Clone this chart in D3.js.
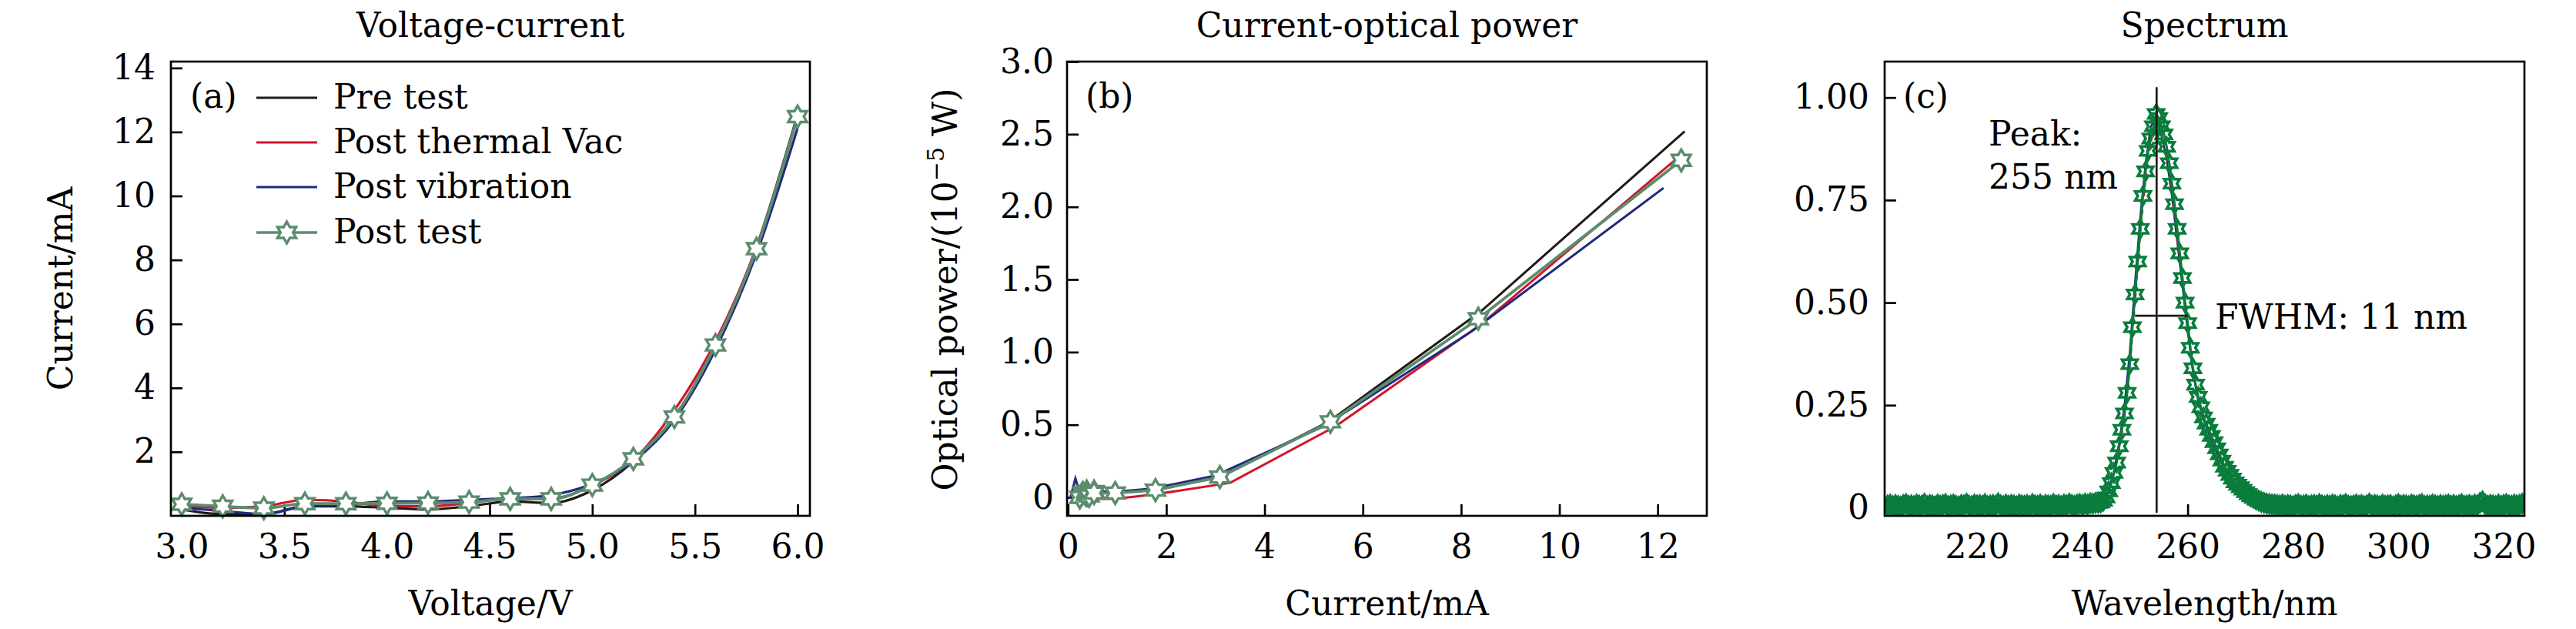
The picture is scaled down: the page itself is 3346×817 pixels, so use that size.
<!DOCTYPE html>
<html><head><meta charset="utf-8">
<script src="https://cdn.jsdelivr.net/npm/d3@7"></script>
<style>body{margin:0;background:#fff}text{font-family:"DejaVu Serif",serif;fill:#000}</style>
</head><body>
<svg id="chart" width="3346" height="817"></svg>
<script>
// ---------- data ----------
const seriesNames = ["Pre test", "Post thermal Vac", "Post vibration", "Post test"];
const seriesColors = ["#231815", "#d2142b", "#1f2a80", "#5b8c6d"];
const voltage = [3.0,3.2,3.4,3.6,3.8,4.0,4.2,4.4,4.6,4.8,5.0,5.2,5.4,5.6,5.8,6.0];
const curPre     = [0.20,0.05,0.05,0.30,0.30,0.25,0.20,0.30,0.45,0.40,0.80,1.70,3.10,5.30,8.40,12.55];
const curThermal = [0.30,0.25,0.30,0.50,0.45,0.30,0.30,0.40,0.55,0.55,0.95,1.75,3.30,5.45,8.40,12.45];
const curVib     = [0.25,0.15,0.05,0.30,0.35,0.45,0.45,0.50,0.55,0.65,1.00,1.70,3.00,5.20,8.20,12.12];
const curPost    = [0.36,0.30,0.24,0.38,0.38,0.39,0.40,0.43,0.53,0.53,0.96,1.78,3.09,5.34,8.35,12.48];
const powPre     = [0.01,0.00,0.00,0.01,0.01,0.01,0.01,0.01,0.02,0.02,0.03,0.05,0.14,0.52,1.28,2.52];
const powThermal = [-0.02,-0.02,-0.02,-0.01,-0.02,-0.02,-0.02,-0.02,-0.01,-0.01,-0.01,0.02,0.10,0.49,1.19,2.35];
const powVib     = [0.02,0.13,0.00,0.02,0.02,0.03,0.03,0.03,0.03,0.04,0.04,0.06,0.15,0.49,1.14,2.13];
const powPost    = [0.02,0.03,0.00,0.04,0.02,0.03,0.02,0.01,0.04,0.03,0.03,0.05,0.14,0.52,1.23,2.32];

const specWl = [
203,203.5,204,204.5,205,205.5,206,206.5,207,207.5,208,208.5,209,209.5,210,210.5,211,211.5,212,212.5,
213,213.5,214,214.5,215,215.5,216,216.5,217,217.5,218,218.5,219,219.5,220,220.5,221,221.5,222,222.5,
223,223.5,224,224.5,225,225.5,226,226.5,227,227.5,228,228.5,229,229.5,230,230.5,231,231.5,232,232.5,
233,233.5,234,234.5,235,235.5,236,236.5,237,237.5,238,238.5,239,239.5,240,240.5,241,241.5,242,242.5,243,
243.5,244,244.5,245,245.5,246,246.5,247,247.5,248,248.5,249,249.5,250,250.5,251,251.5,252,252.5,253,253.5,254,254.5,255,255.5,256,256.5,257,257.5,258,258.5,259,259.5,260,260.5,261,261.5,262,262.5,263,263.5,264,264.5,265,265.5,266,266.5,267,267.5,268,268.5,269,269.5,270,270.5,271,271.5,272,272.5,273,273.5,274,274.5,275,275.5,276,
276.5,277,277.5,278,278.5,279,279.5,280,280.5,281,281.5,282,282.5,283,283.5,284,284.5,285,285.5,286,
286.5,287,287.5,288,288.5,289,289.5,290,290.5,291,291.5,292,292.5,293,293.5,294,294.5,295,295.5,296,
296.5,297,297.5,298,298.5,299,299.5,300,300.5,301,301.5,302,302.5,303,303.5,304,304.5,305,305.5,306,
306.5,307,307.5,308,308.5,309,309.5,310,310.5,311,311.5,312,312.5,313,313.5,314,314.5,315,315.5,316,
316.5,317,317.5,318,318.5,319,319.5,320,320.5,321,321.5,322,322.5,323,323.5];
const specPost = [
0.006,0.008,0.004,0.007,0.005,0.003,0.007,0.009,0.005,0.006,
0.004,0.008,0.006,0.005,0.010,0.004,0.007,0.006,0.003,0.008,
0.005,0.007,0.009,0.004,0.006,0.008,0.005,0.003,0.007,0.006,
0.010,0.005,0.004,0.008,0.006,0.007,0.005,0.009,0.004,0.006,
0.007,0.005,0.011,0.006,0.004,0.008,0.005,0.007,0.006,0.003,
0.008,0.006,0.005,0.007,0.004,0.009,0.006,0.005,0.008,0.004,
0.007,0.006,0.005,0.009,0.006,0.007,0.004,0.008,0.006,0.010,
0.007,0.005,0.008,0.009,0.007,0.010,0.008,0.011,0.010,0.012,0.012,
0.013,0.017,0.025,0.040,0.060,0.085,0.110,0.150,0.190,0.230,0.280,0.350,0.440,0.520,0.600,0.680,0.760,0.820,0.870,0.900,0.930,0.960,0.950,0.930,0.910,0.880,0.840,0.790,0.740,0.680,0.620,0.560,0.500,0.450,0.390,0.340,0.300,0.270,0.245,0.220,0.205,0.190,0.175,0.160,0.145,0.130,0.115,0.100,0.090,0.080,0.071,0.062,0.056,0.050,0.044,0.038,0.033,0.028,0.024,0.020,0.017,0.014,0.012,0.010,0.009,0.008,
0.008,0.007,0.006,0.008,0.005,0.007,0.006,0.004,0.007,0.009,
0.005,0.006,0.008,0.004,0.006,0.007,0.005,0.009,0.006,0.004,
0.007,0.005,0.008,0.006,0.003,0.007,0.006,0.009,0.005,0.004,
0.006,0.008,0.005,0.007,0.004,0.006,0.010,0.005,0.007,0.006,
0.004,0.008,0.005,0.006,0.007,0.003,0.006,0.009,0.005,0.007,
0.006,0.004,0.008,0.006,0.005,0.007,0.009,0.004,0.006,0.005,
0.008,0.006,0.004,0.007,0.005,0.006,0.008,0.005,0.007,0.004,
0.006,0.009,0.005,0.006,0.007,0.004,0.008,0.006,0.012,0.016,
0.008,0.005,0.007,0.006,0.004,0.008,0.005,0.007,0.009,0.006,
0.005,0.008,0.006,0.007,0.010];
const peakWl = [243,244,245,246,247,248,249,250,251,252,253,254,255,256,257,258,259,260,261,262,263,264,265,266,267,268,269,270,271,272,273,274,275,276];
const specThermal = [0.010,0.020,0.040,0.080,0.140,0.220,0.340,0.500,0.670,0.800,0.890,0.950,0.920,0.860,0.770,0.660,0.550,0.440,0.340,0.270,0.220,0.185,0.155,0.125,0.098,0.078,0.060,0.048,0.037,0.027,0.020,0.014,0.010,0.008];
const specVib = [0.012,0.022,0.045,0.090,0.160,0.250,0.380,0.550,0.710,0.840,0.930,0.950,0.910,0.850,0.760,0.650,0.540,0.430,0.330,0.260,0.215,0.180,0.150,0.120,0.095,0.075,0.058,0.046,0.035,0.026,0.019,0.013,0.010,0.008];
const peakNm = 254.1, fwhmLeft = 250.0, fwhmRight = 260.0, fwhmLevel = 0.468;

const ticksA_x = [3.0,3.5,4.0,4.5,5.0,5.5,6.0], ticksA_y = [2,4,6,8,10,12,14];
const ticksB_x = [0,2,4,6,8,10,12], ticksB_y = [0,0.5,1.0,1.5,2.0,2.5,3.0];
const ticksC_x = [220,240,260,280,300,320], ticksC_y = [0,0.25,0.5,0.75,1.0];

// ---------- helpers ----------
const svg = d3.select("#chart");
svg.append("rect").attr("width",3346).attr("height",817).attr("fill","#fff");
const FS = 44, TOP = 80, BOT = 670;

function hexagram(r){
  const ri = r/Math.sqrt(3), pts=[];
  for(let k=0;k<12;k++){const a=-Math.PI/2+k*Math.PI/6, rr=(k%2===0)?r:ri; pts.push([rr*Math.cos(a),rr*Math.sin(a)]);}
  return "M"+pts.map(p=>p[0].toFixed(2)+","+p[1].toFixed(2)).join("L")+"Z";
}

function panel(o){
  const g = svg.append("g");
  const x = d3.scaleLinear().domain(o.xd).range([o.left,o.right]);
  const y = d3.scaleLinear().domain(o.yd).range([BOT,TOP]);
  const xa = g.append("g").attr("transform",`translate(0,${BOT})`)
    .call(d3.axisBottom(x).tickValues(o.xt).tickFormat(o.xf).tickSizeInner(-15).tickSizeOuter(0).tickPadding(24));
  const ya = g.append("g").attr("transform",`translate(${o.left},0)`)
    .call(d3.axisLeft(y).tickValues(o.yt).tickFormat(o.yf).tickSizeInner(-15).tickSizeOuter(0).tickPadding(o.ypad||20));
  [xa,ya].forEach(a=>{a.select(".domain").remove();
    a.selectAll("line").attr("stroke","#000").attr("stroke-width",2.7);
    a.selectAll("text").style("font-family","DejaVu Serif").attr("font-size",FS).attr("fill","#000");});
  g.append("text").attr("x",(o.left+o.right)/2).attr("y",48).attr("text-anchor","middle").attr("font-size",FS).text(o.title);
  g.append("text").attr("x",(o.left+o.right)/2).attr("y",799).attr("text-anchor","middle").attr("font-size",FS).text(o.xlabel);
  return {g,x,y};
}
function frame(g,o){
  g.append("rect").attr("x",o.left).attr("y",TOP).attr("width",o.right-o.left).attr("height",BOT-TOP)
   .attr("fill","none").attr("stroke","#000").attr("stroke-width",2.7);
}

// ---------- panel (a) ----------
const oA = {left:222,right:1052,xd:[2.9475,6.06],yd:[0,14.2],xt:ticksA_x,yt:ticksA_y,
  xf:d3.format(".1f"),yf:d3.format("d"),title:"Voltage-current",xlabel:"Voltage/V"};
const A = panel(oA);
const curA = [curPre,curThermal,curVib,curPost];
const lineA = d3.line().curve(d3.curveMonotoneX);
curA.forEach((c,i)=>{
  A.g.append("path").attr("d",lineA(voltage.map((v,j)=>[A.x(v),A.y(c[j])])))
   .attr("fill","none").attr("stroke",seriesColors[i]).attr("stroke-width",i===3?3.8:3.2);
});
A.g.selectAll(".mA").data(voltage).join("path").attr("class","mA")
  .attr("transform",(v,j)=>`translate(${A.x(v)},${A.y(curPost[j])})`).attr("d",hexagram(14))
  .attr("fill","#fff").attr("stroke",seriesColors[3]).attr("stroke-width",3.4);
frame(A.g,oA);
A.g.append("text").attr("x",247).attr("y",140).attr("font-size",FS).text("(a)");
const legY = [127,185,243,302];
seriesNames.forEach((n,i)=>{
  A.g.append("line").attr("x1",333).attr("x2",412).attr("y1",legY[i]).attr("y2",legY[i])
   .attr("stroke",seriesColors[i]).attr("stroke-width",i===3?3.6:3);
  if(i===3) A.g.append("path").attr("transform",`translate(372.5,${legY[i]})`).attr("d",hexagram(14))
   .attr("fill","#fff").attr("stroke",seriesColors[3]).attr("stroke-width",3.4);
  A.g.append("text").attr("x",433).attr("y",legY[i]+14).attr("font-size",FS).text(n);
});
A.g.append("text").attr("transform","translate(94,375) rotate(-90)").attr("text-anchor","middle").attr("font-size",FS).text("Current/mA");

// ---------- panel (b) ----------
const oB = {left:1386,right:2217,xd:[-0.02,13.0],yd:[-0.127,3.0],xt:ticksB_x,yt:ticksB_y,ypad:17,
  xf:d3.format("d"),yf:d=>d===0?"0":d3.format(".1f")(d),title:"Current-optical power",xlabel:"Current/mA"};
const B = panel(oB);
const powB = [powPre,powThermal,powVib,powPost];
const lineB = d3.line();
curA.forEach((c,i)=>{
  B.g.append("path").attr("d",lineB(c.map((cv,j)=>[B.x(cv),B.y(powB[i][j])])))
   .attr("fill","none").attr("stroke",seriesColors[i]).attr("stroke-width",i===3?3.8:3);
});
B.g.selectAll(".mB").data(curPost).join("path").attr("class","mB")
  .attr("transform",(c,j)=>`translate(${B.x(c)},${B.y(powPost[j])})`).attr("d",hexagram(14))
  .attr("fill","#fff").attr("stroke",seriesColors[3]).attr("stroke-width",3.4);
frame(B.g,oB);
B.g.append("text").attr("x",1410).attr("y",140).attr("font-size",FS).text("(b)");
const yl = B.g.append("text").attr("transform","translate(1243,376) rotate(-90)").attr("text-anchor","middle").attr("font-size",FS);
yl.append("tspan").text("Optical power/(10");
yl.append("tspan").attr("dy",-17).attr("font-size",30).text("\u22125");
yl.append("tspan").attr("dy",17).text(" W)");

// ---------- panel (c) ----------
const oC = {left:2448,right:3279,xd:[202.45,323.95],yd:[-0.0197,1.0876],xt:ticksC_x,yt:ticksC_y,
  xf:d3.format("d"),yf:d=>d===0?"0":d3.format(".2f")(d),title:"Spectrum",xlabel:"Wavelength/nm"};
const C = panel(oC);
svg.append("defs").append("clipPath").attr("id","clipC").append("rect")
  .attr("x",oC.left).attr("y",TOP).attr("width",oC.right-oC.left).attr("height",BOT-TOP);
const CD = C.g.append("g").attr("clip-path","url(#clipC)");
const specGreen = "#0a7d3c";
const lineC = d3.line();
CD.append("path").attr("d",lineC(peakWl.map((w,j)=>[C.x(w),C.y(specVib[j])]))).attr("fill","none").attr("stroke",seriesColors[2]).attr("stroke-width",2.4);
CD.append("path").attr("d",lineC(peakWl.map((w,j)=>[C.x(w),C.y(specThermal[j])]))).attr("fill","none").attr("stroke",seriesColors[1]).attr("stroke-width",2.4).attr("stroke-dasharray","6,6");
CD.append("path").attr("d",lineC(specWl.map((w,j)=>[C.x(w),C.y(specPost[j])]))).attr("fill","none").attr("stroke",specGreen).attr("stroke-width",3.2);
CD.selectAll(".mC").data(specWl).join("path").attr("class","mC")
  .attr("transform",(w,j)=>`translate(${C.x(w)},${C.y(specPost[j])})`).attr("d",hexagram(11.5))
  .attr("fill","none").attr("stroke",specGreen).attr("stroke-width",3.6);
C.g.append("line").attr("x1",C.x(peakNm)).attr("x2",C.x(peakNm)).attr("y1",C.y(-0.012)).attr("y2",C.y(1.025))
  .attr("stroke","#231815").attr("stroke-width",2.7);
C.g.append("line").attr("x1",C.x(fwhmLeft)).attr("x2",C.x(fwhmRight)).attr("y1",C.y(fwhmLevel)).attr("y2",C.y(fwhmLevel))
  .attr("stroke","#231815").attr("stroke-width",2.7);
frame(C.g,oC);
C.g.append("text").attr("x",2472).attr("y",140).attr("font-size",FS).text("(c)");
C.g.append("text").attr("x",2583).attr("y",189).attr("font-size",FS).text("Peak:");
C.g.append("text").attr("x",2583).attr("y",245).attr("font-size",FS).text("255 nm");
C.g.append("text").attr("x",2877).attr("y",427).attr("font-size",FS).text("FWHM: 11 nm");
</script>
</body></html>
